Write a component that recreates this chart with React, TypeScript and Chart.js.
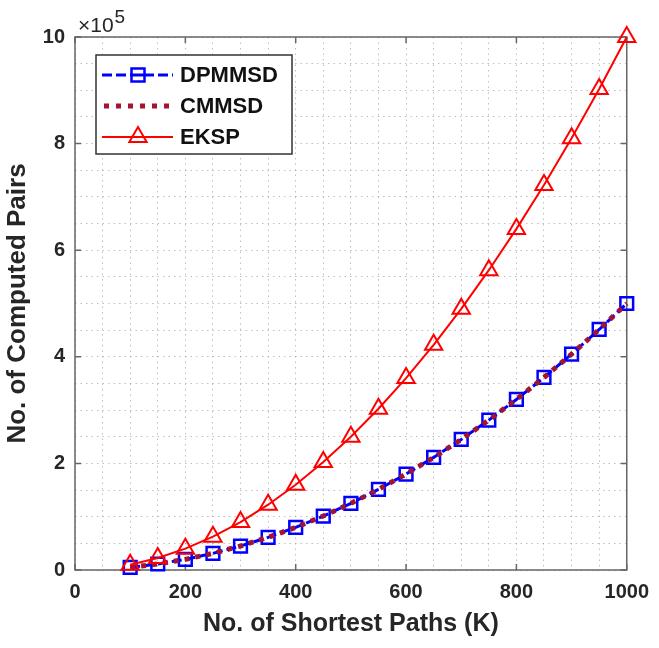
import React, { useEffect, useRef } from 'react';
import { Chart, registerables } from 'chart.js';

Chart.register(...registerables);

// Number of shortest paths K
const K = [100, 150, 200, 250, 300, 350, 400, 450, 500, 550, 600, 650, 700, 750, 800, 850, 900, 950, 1000];
// Computed pairs
const DPMMSD = [5000, 11250, 20000, 31250, 45000, 61250, 80000, 101250, 125000, 151250, 180000, 211250, 245000, 281250, 320000, 361250, 405000, 451250, 500000];
const CMMSD = [5000, 11250, 20000, 31250, 45000, 61250, 80000, 101250, 125000, 151250, 180000, 211250, 245000, 281250, 320000, 361250, 405000, 451250, 500000];
const EKSP = [10000, 22500, 40000, 62500, 90000, 122500, 160000, 202500, 250000, 302500, 360000, 422500, 490000, 562500, 640000, 722500, 810000, 902500, 1000000];

const SERIES_NAMES = ['DPMMSD', 'CMMSD', 'EKSP'];
const X_TICKS = [0, 200, 400, 600, 800, 1000];
const Y_TICKS = [0, 200000, 400000, 600000, 800000, 1000000];
const Y_EXPONENT = 5;
const X_TITLE = 'No. of Shortest Paths (K)';
const Y_TITLE = 'No. of Computed Pairs';

const FONT = '"Liberation Sans", Arial, sans-serif';
const TEXT = '#262626';
const FRAME = '#666666';
const BLUE = '#0000ff';
const MAROON = '#a2142f';
const RED = '#ff0000';

const toPts = (ys: number[]) => K.map((x, i) => ({ x, y: ys[i] }));

const framePlugin = {
  id: 'frame',
  beforeDatasetsDraw(chart: any) {
    const { ctx, chartArea: a, scales } = chart;
    ctx.save();
    ctx.strokeStyle = FRAME;
    ctx.lineWidth = 1.5;
    ctx.strokeRect(a.left, a.top, a.right - a.left, a.bottom - a.top);
    ctx.beginPath();
    const tl = 6;
    X_TICKS.forEach((v) => {
      const px = scales.x.getPixelForValue(v);
      ctx.moveTo(px, a.bottom);
      ctx.lineTo(px, a.bottom - tl);
      ctx.moveTo(px, a.top);
      ctx.lineTo(px, a.top + tl);
    });
    Y_TICKS.forEach((v) => {
      const py = scales.y.getPixelForValue(v);
      ctx.moveTo(a.left, py);
      ctx.lineTo(a.left + tl, py);
      ctx.moveTo(a.right, py);
      ctx.lineTo(a.right - tl, py);
    });
    ctx.stroke();
    ctx.restore();
  },
  afterDraw(chart: any) {
    const { ctx, chartArea: a } = chart;
    ctx.save();
    // exponent label
    ctx.fillStyle = TEXT;
    ctx.textBaseline = 'alphabetic';
    ctx.textAlign = 'left';
    ctx.font = `21px ${FONT}`;
    const base = '\u00d710';
    ctx.fillText(base, a.left + 3, a.top - 5);
    const w = ctx.measureText(base).width;
    ctx.font = `19px ${FONT}`;
    ctx.fillText(String(Y_EXPONENT), a.left + 3 + w + 1, a.top - 14);

    // legend
    const bx = 96, by = 55, bw = 196, bh = 99;
    ctx.fillStyle = '#ffffff';
    ctx.fillRect(bx, by, bw, bh);
    ctx.strokeStyle = '#333333';
    ctx.lineWidth = 1.5;
    ctx.strokeRect(bx, by, bw, bh);
    const rows = [75, 106, 137];
    const x0 = 102, x1 = 173, mx = 138;
    // DPMMSD
    ctx.strokeStyle = BLUE;
    ctx.lineWidth = 3;
    ctx.setLineDash([10, 4]);
    ctx.beginPath();
    ctx.moveTo(x0, rows[0]);
    ctx.lineTo(x1, rows[0]);
    ctx.stroke();
    ctx.setLineDash([]);
    ctx.fillStyle = '#ffffff';
    ctx.fillRect(mx - 6.5, rows[0] - 6.5, 13, 13);
    ctx.lineWidth = 2.5;
    ctx.strokeRect(mx - 6.5, rows[0] - 6.5, 13, 13);
    ctx.beginPath();
    ctx.lineWidth = 3;
    ctx.moveTo(mx - 6.5, rows[0]);
    ctx.lineTo(mx + 6.5, rows[0]);
    ctx.stroke();
    // CMMSD
    ctx.strokeStyle = MAROON;
    ctx.lineWidth = 5;
    ctx.setLineDash([5, 7]);
    ctx.beginPath();
    ctx.moveTo(x0 + 2, rows[1]);
    ctx.lineTo(x1, rows[1]);
    ctx.stroke();
    ctx.setLineDash([]);
    // EKSP
    ctx.strokeStyle = RED;
    ctx.lineWidth = 2;
    ctx.beginPath();
    ctx.moveTo(x0, rows[2]);
    ctx.lineTo(x1, rows[2]);
    ctx.stroke();
    const r = 10;
    ctx.beginPath();
    ctx.moveTo(mx, rows[2] - r);
    ctx.lineTo(mx + Math.sin((2 * Math.PI) / 3) * r, rows[2] + r / 2);
    ctx.lineTo(mx - Math.sin((2 * Math.PI) / 3) * r, rows[2] + r / 2);
    ctx.closePath();
    ctx.fillStyle = '#ffffff';
    ctx.fill();
    ctx.stroke();
    ctx.beginPath();
    ctx.moveTo(mx - 8, rows[2]);
    ctx.lineTo(mx + 8, rows[2]);
    ctx.stroke();

    ctx.fillStyle = '#111111';
    ctx.font = `bold 22px ${FONT}`;
    ctx.textBaseline = 'middle';
    SERIES_NAMES.forEach((n, i) => ctx.fillText(n, 180, rows[i] + 1));
    ctx.restore();
  },
};

export default function App() {
  const ref = useRef<HTMLCanvasElement | null>(null);
  useEffect(() => {
    document.body.style.margin = '0';
    if (!ref.current) return;
    const gridStyle = {
      color: 'rgba(150,150,150,0.6)',
      lineWidth: 1,
      drawTicks: false,
    };
    const chart = new Chart(ref.current, {
      type: 'line',
      data: {
        datasets: [
          {
            label: SERIES_NAMES[0],
            data: toPts(DPMMSD),
            borderColor: BLUE,
            borderWidth: 3,
            borderDash: [10, 4],
            pointStyle: 'rect',
            pointRadius: 9,
            pointBorderWidth: 2.5,
            pointBorderColor: BLUE,
            pointBackgroundColor: 'rgba(0,0,0,0)',
            tension: 0,
            clip: false as any,
            order: 3,
          },
          {
            label: SERIES_NAMES[1],
            data: toPts(CMMSD),
            borderColor: MAROON,
            borderWidth: 5,
            borderDash: [5, 6],
            pointRadius: 0,
            tension: 0,
            clip: false as any,
            order: 2,
          },
          {
            label: SERIES_NAMES[2],
            data: toPts(EKSP),
            borderColor: RED,
            borderWidth: 2,
            pointStyle: 'triangle',
            pointRadius: 10,
            pointBorderWidth: 2,
            pointBorderColor: RED,
            pointBackgroundColor: 'rgba(0,0,0,0)',
            tension: 0,
            clip: false as any,
            order: 1,
          },
        ],
      },
      options: {
        responsive: false,
        animation: false,
        layout: { padding: { top: 37, right: 25, left: 0, bottom: 0 } },
        plugins: { legend: { display: false }, tooltip: { enabled: false }, title: { display: false } },
        scales: {
          x: {
            type: 'linear',
            min: 0,
            max: 1000,
            grid: gridStyle,
            border: { display: false, dash: [1.5, 4] },
            ticks: {
              stepSize: 50,
              autoSkip: false,
              maxRotation: 0,
              padding: 10,
              color: TEXT,
              font: { family: FONT, size: 20, weight: 'bold' },
              callback: (v: any) => (X_TICKS.includes(Number(v)) ? String(v) : ''),
            },
            title: {
              display: true,
              text: X_TITLE,
              color: TEXT,
              font: { family: FONT, size: 25, weight: 'bold' },
              padding: { top: 0, bottom: 9 },
            },
            afterFit: (s: any) => {
              s.height = 78;
            },
          },
          y: {
            type: 'linear',
            min: 0,
            max: 1000000,
            grid: gridStyle,
            border: { display: false, dash: [1.5, 4] },
            ticks: {
              stepSize: 50000,
              autoSkip: false,
              padding: 10,
              color: TEXT,
              font: { family: FONT, size: 20, weight: 'bold' },
              callback: (v: any) => (Y_TICKS.includes(Number(v)) ? String(Number(v) / Math.pow(10, Y_EXPONENT)) : ''),
            },
            title: {
              display: true,
              text: Y_TITLE,
              color: TEXT,
              font: { family: FONT, size: 26, weight: 'bold' },
              padding: { top: 2, bottom: 0 },
            },
            afterFit: (s: any) => {
              s.width = 75;
            },
          },
        },
      } as any,
      plugins: [framePlugin],
    });
    return () => chart.destroy();
  }, []);
  return (
    <div style={{ position: 'absolute', left: 0, top: 0, width: 659, height: 648, background: '#fff' }}>
      <canvas ref={ref} width={659} height={648} />
    </div>
  );
}
